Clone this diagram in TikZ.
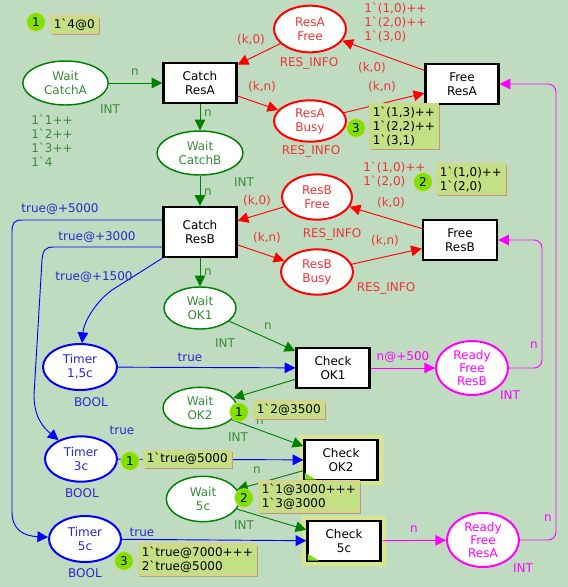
\documentclass[tikz,border=0pt]{standalone}
\usepackage{fontspec}
\setmainfont{DejaVu Sans}
\usetikzlibrary{shapes.geometric,arrows.meta,shadows}
\definecolor{bgc}{RGB}{192,220,192}
\definecolor{cgreen}{RGB}{0,128,0}
\definecolor{cgtext}{RGB}{56,140,56}
\definecolor{cred}{RGB}{255,0,0}
\definecolor{crtext}{RGB}{236,52,52}
\definecolor{cblue}{RGB}{0,0,255}
\definecolor{cbtext}{RGB}{40,40,210}
\definecolor{cmag}{RGB}{255,0,255}
\definecolor{ctok}{RGB}{128,224,0}
\definecolor{ctokbd}{RGB}{214,214,110}
\definecolor{ctbf}{RGB}{196,224,132}
\definecolor{ctbd}{RGB}{222,208,140}
\definecolor{ctsh}{RGB}{170,164,124}
\definecolor{chalo}{RGB}{216,230,140}
\newcommand{\tck}{\textasciigrave}
\begin{document}
\begin{tikzpicture}[x=0.75pt,y=-0.75pt,font=\fontsize{9}{10.5}\selectfont,
plc/.style={ellipse, draw, fill=white, line width=1.5pt, inner sep=0pt, minimum width=54pt, minimum height=33pt, align=center},
gpl/.style={plc, draw=cgreen, text=cgtext, line width=1.1pt},
rpl/.style={plc, draw=cred, text=crtext},
bpl/.style={plc, draw=cblue, text=cbtext},
mpl/.style={plc, draw=cmag, text=cmag, minimum height=40.5pt, font=\fontsize{9}{10}\selectfont},
trn/.style={rectangle, draw, fill=white, line width=1.8pt, minimum width=54.75pt, minimum height=30pt, align=center},
entr/.style={trn, preaction={draw=chalo, line width=8pt}},
flow/.style={-{Triangle[length=8pt,width=8pt]}, line width=0.7pt},
garc/.style={flow, draw=cgreen},
rarc/.style={flow, draw=cred},
barc/.style={flow, draw=cblue},
marc/.style={flow, draw=cmag},
glab/.style={text=cgtext, inner sep=0pt},
rlab/.style={text=crtext, inner sep=0pt},
blab/.style={text=cbtext, inner sep=0pt},
mlab/.style={text=cmag, inner sep=0pt},
tok/.style={circle, fill=ctok, draw=ctokbd, line width=0.6pt, inner sep=0pt, minimum size=14pt},
tbox/.style={anchor=west, draw=ctbd, fill=ctbf, line width=0.8pt, inner xsep=2.5pt, inner ysep=2pt, align=left, drop shadow={shadow xshift=1.3pt, shadow yshift=-1.3pt, fill=ctsh, opacity=1}},
entmark/.style={fill=ctok}]
\path[use as bounding box, fill=bgc] (0,0) rectangle (568,587);

\node[gpl, minimum width=64pt](waitA) at (65.5,83){Wait\\CatchA};
\node[trn](catchA) at (200,83){Catch\\ResA};
\node[gpl, minimum width=64.5pt](waitB) at (200,153){Wait\\CatchB};
\node[trn, minimum height=37.5pt](catchB) at (200,232){Catch\\ResB};
\node[gpl, minimum height=31.5pt](waitOK1) at (200,308){Wait\\OK1};
\node[trn](chkOK1) at (333,368){Check\\OK1};
\node[gpl, minimum width=55.5pt, minimum height=31pt](waitOK2) at (200,408){Wait\\OK2};
\node[entr](chkOK2) at (341,460){Check\\OK2};
\node[gpl, minimum width=55pt, minimum height=34pt](wait5c) at (203,499){Wait\\5c};
\node[entr](chk5c) at (344,541){Check\\5c};
\node[bpl, minimum width=55.5pt, minimum height=34.5pt](timer15) at (80,367){Timer\\1,5c};
\node[bpl, minimum height=34pt](timer3) at (81,459){Timer\\3c};
\node[bpl, minimum height=34.5pt](timer5) at (85,539){Timer\\5c};
\node[rpl, minimum height=35pt](resAfree) at (310,29){ResA\\Free};
\node[rpl, minimum height=31pt](resAbusy) at (310,121){ResA\\Busy};
\node[trn](freeA) at (462,84){Free\\ResA};
\node[rpl, minimum width=52.5pt, minimum height=34pt](resBfree) at (317,197){ResB\\Free};
\node[rpl, minimum height=34pt](resBbusy) at (317,272){ResB\\Busy};
\node[trn, minimum width=55.5pt](freeB) at (460,240){Free\\ResB};
\node[mpl](readyB) at (472,368){Ready\\Free\\ResB};
\node[mpl](readyA) at (483,540){Ready\\Free\\ResA};

\fill[entmark]([shift={(1.5,-1.5)}]chkOK2.south west) -- ++(11,0) -- ++(-11,-7) -- cycle;
\fill[entmark]([shift={(1.5,-1.5)}]chk5c.south west) -- ++(11,0) -- ++(-11,-7) -- cycle;

\draw[garc](waitA) -- (catchA);
\draw[garc](catchA) -- (waitB);
\draw[garc](waitB) -- (catchB);
\draw[garc](catchB) -- (waitOK1);
\draw[garc](waitOK1) -- (chkOK1);
\draw[garc](chkOK1) -- (waitOK2);
\draw[garc](waitOK2) -- (chkOK2);
\draw[garc](chkOK2) -- (wait5c);
\draw[garc](wait5c) -- (chk5c);

\draw[rarc](resAfree) -- (catchA);
\draw[rarc](catchA) -- (resAbusy);
\draw[rarc](freeA) -- (resAfree);
\draw[rarc](resAbusy) -- (freeA);
\draw[rarc](resBfree) -- (catchB);
\draw[rarc](catchB) -- (resBbusy);
\draw[rarc](freeB) -- (resBfree);
\draw[rarc](resBbusy) -- (freeB);

\draw[barc](timer15) -- (chkOK1);
\draw[barc](timer3) -- (chkOK2);
\draw[barc](timer5) -- (chk5c);
\draw[barc](catchB.south west) -- (112,290) .. controls (98,300) and (84,320) .. (timer15);
\draw[barc]([yshift=-11.25pt]catchB.west) -- (54,247) .. controls (45,247) and (43,250) .. (42,260) -- (34,395) .. controls (34,418) and (44,428) .. (timer3);
\draw[barc]([yshift=9pt]catchB.west) -- (22,220) .. controls (14,220) and (12,223) .. (12,232) -- (12,512) .. controls (12,530) and (24,536) .. (timer5);

\draw[marc](chkOK1) -- (readyB);
\draw[marc, rounded corners=6pt](readyB) -- (542,368) -- (542,240) -- (freeB);
\draw[marc](chk5c) -- (readyA);
\draw[marc, rounded corners=6pt](readyA) -- (556,540) -- (556,84) -- (freeA);

\node[glab](l0) at (135,72){n};
\node[glab](l1) at (110,109){INT};
\node[glab](l2) at (208,113){n};
\node[glab](l3) at (244,182){INT};
\node[glab](l4) at (208,192){n};
\node[glab](l5) at (208,272){n};
\node[glab](l6) at (225,343){INT};
\node[glab](l7) at (268,326){n};
\node[glab](l8) at (238,437){INT};
\node[glab](l9) at (260,421){n};
\node[glab](l10) at (257,470){n};
\node[glab](l11) at (244,525){INT};
\node[glab, align=left, anchor=west](mkA) at (31,141){1\tck1++\\1\tck2++\\1\tck3++\\1\tck4};

\node[rlab](l12) at (251,40){(k,0)};
\node[rlab](l13) at (262,87){(k,n)};
\node[rlab](l14) at (309,63){RES\_INFO};
\node[rlab](l15) at (311,151){RES\_INFO};
\node[rlab](l16) at (372,68){(k,0)};
\node[rlab](l17) at (382,87){(k,n)};
\node[rlab](l18) at (257,201){(k,0)};
\node[rlab](l19) at (267,238){(k,n)};
\node[rlab](l20) at (332,234){RES\_INFO};
\node[rlab](l21) at (391,203){(k,0)};
\node[rlab](l22) at (385,241){(k,n)};
\node[rlab](l23) at (386,288){RES\_INFO};
\node[rlab, align=left, anchor=west](mkResA) at (364,22){1\tck(1,0)++\\1\tck(2,0)++\\1\tck(3,0)};
\node[rlab, align=left, anchor=west](mkResB) at (363,174){1\tck(1,0)++\\1\tck(2,0)};

\node[blab](l24) at (60,209){true@+5000};
\node[blab](l25) at (97,237){true@+3000};
\node[blab](l26) at (94,277){true@+1500};
\node[blab](l27) at (190,357){true};
\node[blab](l28) at (91,402){BOOL};
\node[blab](l29) at (122,430){true};
\node[blab](l30) at (82,493){BOOL};
\node[blab](l31) at (142,532){true};
\node[blab](l32) at (85,573){BOOL};

\node[mlab](l33) at (403,357){n@+500};
\node[mlab](l34) at (534,345){n};
\node[mlab](l35) at (510,395){INT};
\node[mlab](l36) at (414,529){n};
\node[mlab](l37) at (548,518){n};
\node[mlab](l38) at (523,568){INT};

\node[tok](tk0) at (36,22){1};
\node[tbox](tb0) at (50,24.5){1\tck4@0};
\node[tok](tk1) at (356,128){3};
\node[tbox](tb1) at (369,126){1\tck(1,3)++\\1\tck(2,2)++\\1\tck(3,1)};
\node[tok](tk2) at (423,182){2};
\node[tbox](tb2) at (436,179){1\tck(1,0)++\\1\tck(2,0)};
\node[tok](tk3) at (239,412){1};
\node[tbox](tb3) at (253,409.5){1\tck2@3500};
\node[tok](tk4) at (130,461){1};
\node[tbox](tb4) at (143,459){1\tck true@5000};
\node[tok](tk5) at (244,498){2};
\node[tbox](tb5) at (258,496.5){1\tck1@3000+++\\1\tck3@3000};
\node[tok](tk6) at (124,561){3};
\node[tbox](tb6) at (138,559.5){1\tck true@7000+++\\2\tck true@5000};
\end{tikzpicture}
\end{document}
